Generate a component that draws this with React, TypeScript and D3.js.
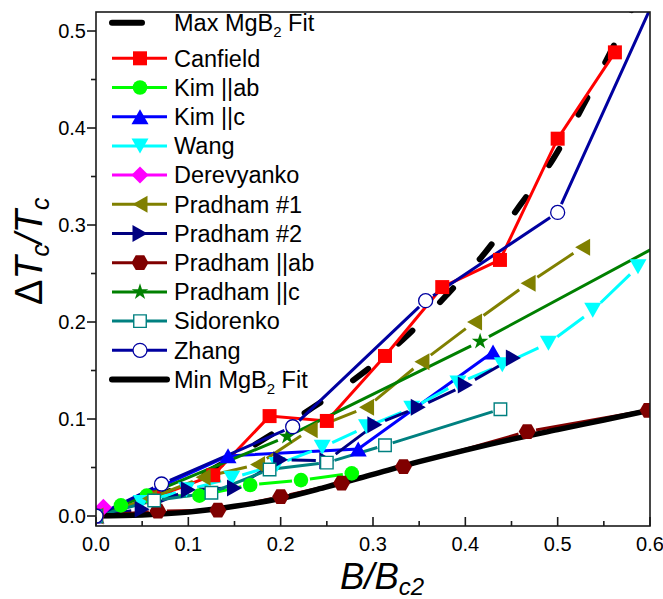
import React from 'react';
import * as d3 from 'd3';

const W = 663;
const H = 599;

// ---- axis ticks ----
const xTickValues = [0, 0.1, 0.2, 0.3, 0.4, 0.5, 0.6];
const xTickLabels = ['0.0', '0.1', '0.2', '0.3', '0.4', '0.5', '0.6'];
const xMinorValues = [0.05, 0.15, 0.25, 0.35, 0.45, 0.55];
const yTickValues = [0, 0.1, 0.2, 0.3, 0.4, 0.5];
const yTickLabels = ['0.0', '0.1', '0.2', '0.3', '0.4', '0.5'];
const yMinorValues = [0.05, 0.15, 0.25, 0.35, 0.45];

// ---- data ----
const maxFitX = [0, 0.05, 0.1, 0.15, 0.19, 0.235, 0.287, 0.337, 0.381, 0.421, 0.459, 0.495, 0.527, 0.556, 0.578, 0.6];
const maxFitY = [0, 0.014, 0.035, 0.061, 0.084, 0.112, 0.146, 0.186, 0.229, 0.271, 0.32, 0.368, 0.422, 0.476, 0.518, 0.56];

const minFitX = [0, 0.05, 0.1, 0.15, 0.2, 0.25, 0.3, 0.35, 0.4, 0.45, 0.5, 0.55, 0.6];
const minFitY = [0, 0.001, 0.004, 0.01, 0.018, 0.03, 0.043, 0.056, 0.068, 0.079, 0.089, 0.099, 0.109];

const canfieldX = [0, 0.0625, 0.127, 0.188, 0.25, 0.313, 0.375, 0.4375, 0.5, 0.562];
const canfieldY = [0, 0.019, 0.042, 0.103, 0.098, 0.165, 0.236, 0.264, 0.389, 0.478];

const kimAbX = [0, 0.027, 0.055, 0.112, 0.167, 0.222, 0.277];
const kimAbY = [0, 0.011, 0.021, 0.021, 0.032, 0.037, 0.044];

const kimCX = [0, 0.143, 0.284, 0.43];
const kimCY = [0, 0.062, 0.069, 0.169];

const wangX = [0, 0.049, 0.098, 0.147, 0.196, 0.245, 0.293, 0.342, 0.392, 0.44, 0.49, 0.538, 0.587];
const wangY = [0, 0.014, 0.027, 0.039, 0.053, 0.071, 0.092, 0.111, 0.137, 0.156, 0.178, 0.212, 0.257];

const derevyankoX = [0, 0.008];
const derevyankoY = [0, 0.009];

const pradham1X = [0, 0.058, 0.116, 0.175, 0.232, 0.293, 0.353, 0.41, 0.468, 0.527];
const pradham1Y = [0, 0.018, 0.04, 0.053, 0.089, 0.112, 0.159, 0.2, 0.24, 0.277];

const pradham2X = [0, 0.05, 0.1, 0.15, 0.2, 0.25, 0.302, 0.349, 0.4, 0.452];
const pradham2Y = [0, 0.007, 0.027, 0.029, 0.058, 0.057, 0.094, 0.112, 0.135, 0.163];

const pradhamAbX = [0, 0.067, 0.132, 0.2, 0.266, 0.333, 0.467, 0.598];
const pradhamAbY = [0, 0.005, 0.006, 0.02, 0.034, 0.051, 0.087, 0.109];

const pradhamCX = [0, 0.207, 0.416, 0.625];
const pradhamCY = [0, 0.082, 0.18, 0.287];

const sidorenkoX = [0, 0.063, 0.125, 0.188, 0.25, 0.313, 0.438];
const sidorenkoY = [0, 0.016, 0.024, 0.048, 0.055, 0.073, 0.11];

const zhangX = [0, 0.071, 0.213, 0.357, 0.5, 0.625];
const zhangY = [0, 0.033, 0.092, 0.222, 0.313, 0.575];

type Shape = 'square' | 'circle' | 'triUp' | 'triDown' | 'triLeft' | 'triRight' | 'diamond' | 'hexagon' | 'star' | 'openSquare' | 'openCircle';

interface Series {
  name: string;
  xs: number[];
  ys: number[];
  color: string;
  shape: Shape;
  gap: number;
}

const seriesList: Series[] = [
  { name: 'Canfield', xs: canfieldX, ys: canfieldY, color: '#FF0000', shape: 'square', gap: 0 },
  { name: 'Kim ||ab', xs: kimAbX, ys: kimAbY, color: '#00FF00', shape: 'circle', gap: 9 },
  { name: 'Kim ||c', xs: kimCX, ys: kimCY, color: '#0000FF', shape: 'triUp', gap: 0 },
  { name: 'Wang', xs: wangX, ys: wangY, color: '#00FFFF', shape: 'triDown', gap: 11 },
  { name: 'Derevyanko', xs: derevyankoX, ys: derevyankoY, color: '#FF00FF', shape: 'diamond', gap: 0 },
  { name: 'Pradham #1', xs: pradham1X, ys: pradham1Y, color: '#808000', shape: 'triLeft', gap: 11 },
  { name: 'Pradham #2', xs: pradham2X, ys: pradham2Y, color: '#000080', shape: 'triRight', gap: 11 },
  { name: 'Pradham ||ab', xs: pradhamAbX, ys: pradhamAbY, color: '#800000', shape: 'hexagon', gap: 9 },
  { name: 'Pradham ||c', xs: pradhamCX, ys: pradhamCY, color: '#008000', shape: 'star', gap: 10 },
  { name: 'Sidorenko', xs: sidorenkoX, ys: sidorenkoY, color: '#008080', shape: 'openSquare', gap: 8 },
  { name: 'Zhang', xs: zhangX, ys: zhangY, color: '#0000A0', shape: 'openCircle', gap: 9 },
];

// ---- layout ----
const PL = 96, PR = 650, PT = 12, PB = 526;
const x = d3.scaleLinear().domain([0, 0.6]).range([PL, PR]);
const y = d3.scaleLinear().domain([-0.0103, 0.5196]).range([PB, PT]);

const FONT = '"Liberation Sans", Arial, Helvetica, sans-serif';

function markerPath(shape: Shape): string {
  switch (shape) {
    case 'square': { const s = 14; return `M${-s / 2},${-s / 2}h${s}v${s}h${-s}Z`; }
    case 'openSquare': { const s = 12.5; return `M${-s / 2},${-s / 2}h${s}v${s}h${-s}Z`; }
    case 'triUp': { const w = 17, h = 15; return `M0,${-h / 2}L${w / 2},${h / 2}L${-w / 2},${h / 2}Z`; }
    case 'triDown': { const w = 17, h = 15; return `M0,${h / 2}L${w / 2},${-h / 2}L${-w / 2},${-h / 2}Z`; }
    case 'triLeft': { const w = 17, h = 15; return `M${-h / 2},0L${h / 2},${-w / 2}L${h / 2},${w / 2}Z`; }
    case 'triRight': { const w = 17, h = 15; return `M${h / 2},0L${-h / 2},${-w / 2}L${-h / 2},${w / 2}Z`; }
    case 'diamond': { const d = 17; return `M0,${-d / 2}L${d / 2},0L0,${d / 2}L${-d / 2},0Z`; }
    case 'hexagon': {
      const r = 8.5;
      const pts = d3.range(6).map((i) => {
        const a = (Math.PI / 3) * i;
        return [r * Math.cos(a), r * Math.sin(a)];
      });
      return 'M' + pts.map((p) => p.join(',')).join('L') + 'Z';
    }
    case 'star': return d3.symbol(d3.symbolStar, 85)() || '';
    default: return '';
  }
}

function Marker({ shape, color, cx, cy }: { shape: Shape; color: string; cx: number; cy: number }) {
  if (shape === 'circle') return <circle cx={cx} cy={cy} r={7.3} fill={color} />;
  if (shape === 'openCircle') return <circle cx={cx} cy={cy} r={7} fill="#fff" stroke={color} strokeWidth={1.3} />;
  if (shape === 'openSquare') return <path d={markerPath(shape)} transform={`translate(${cx},${cy})`} fill="#fff" stroke={color} strokeWidth={1.4} />;
  return <path d={markerPath(shape)} transform={`translate(${cx},${cy})`} fill={color} />;
}

function gappedSegments(pts: [number, number][], gap: number): string {
  if (gap <= 0) return d3.line()(pts) || '';
  let d = '';
  for (let i = 0; i < pts.length - 1; i++) {
    const [x1, y1] = pts[i];
    const [x2, y2] = pts[i + 1];
    const dx = x2 - x1, dy = y2 - y1;
    const len = Math.hypot(dx, dy);
    if (len <= 2 * gap + 1) continue;
    const ux = dx / len, uy = dy / len;
    d += `M${x1 + ux * gap},${y1 + uy * gap}L${x2 - ux * gap},${y2 - uy * gap}`;
  }
  return d;
}

const fitLine = d3.line<[number, number]>().curve(d3.curveMonotoneX);

export default function App() {
  const maxPts: [number, number][] = maxFitX.map((v, i) => [x(v), y(maxFitY[i])]);
  const minPts: [number, number][] = minFitX.map((v, i) => [x(v), y(minFitY[i])]);

  const legendX1 = 112, legendX2 = 167, legendMX = 140, legendTX = 174;
  const legendRowY = (i: number) => 58.3 + i * 29.2;
  const maxRowY = 22.7;
  const minRowY = legendRowY(seriesList.length);

  return (
    <svg width={W} height={H} style={{ position: 'absolute', left: 0, top: 0, background: '#fff' }} fontFamily={FONT}>
      <defs>
        <clipPath id="plotClip">
          <rect x={PL} y={PT} width={PR - PL} height={PB - PT} />
        </clipPath>
      </defs>
      <rect x={0} y={0} width={W} height={H} fill="#fff" />

      <g clipPath="url(#plotClip)">
        {/* max fit (bottom) */}
        <path d={fitLine(maxPts) || ''} fill="none" stroke="#000" strokeWidth={6} strokeLinecap="round" strokeDasharray="19 39.5" />
        {/* data lines */}
        {seriesList.map((s) => {
          const pts: [number, number][] = s.xs.map((v, i) => [x(v), y(s.ys[i])]);
          return <path key={s.name} d={gappedSegments(pts, s.gap)} fill="none" stroke={s.color} strokeWidth={3} />;
        })}
        {/* min fit */}
        <path d={fitLine(minPts) || ''} fill="none" stroke="#000" strokeWidth={5.5} strokeLinecap="round" />
        {/* markers */}
        {seriesList.map((s) => (
          <g key={s.name + '-m'}>
            {s.xs.map((v, i) => (
              <Marker key={i} shape={s.shape} color={s.color} cx={x(v)} cy={y(s.ys[i])} />
            ))}
          </g>
        ))}
      </g>

      {/* frame */}
      <rect x={PL} y={PT} width={PR - PL} height={PB - PT} fill="none" stroke="#1a1a1a" strokeWidth={1.6} />

      {/* x ticks (inward) */}
      {xTickValues.map((v, i) => (
        <g key={'xt' + i}>
          <line x1={x(v)} x2={x(v)} y1={PB} y2={PB - 9} stroke="#1a1a1a" strokeWidth={1.6} />
          <text x={x(v)} y={551} textAnchor="middle" fontSize={20} fill="#000">{xTickLabels[i]}</text>
        </g>
      ))}
      {xMinorValues.map((v, i) => (
        <line key={'xm' + i} x1={x(v)} x2={x(v)} y1={PB} y2={PB - 5} stroke="#1a1a1a" strokeWidth={1.6} />
      ))}

      {/* y ticks (outward) */}
      {yTickValues.map((v, i) => (
        <g key={'yt' + i}>
          <line x1={PL - 9} x2={PL} y1={y(v)} y2={y(v)} stroke="#1a1a1a" strokeWidth={1.6} />
          <text x={86} y={y(v) + 7.2} textAnchor="end" fontSize={20} fill="#000">{yTickLabels[i]}</text>
        </g>
      ))}
      {yMinorValues.map((v, i) => (
        <line key={'ym' + i} x1={PL - 5} x2={PL} y1={y(v)} y2={y(v)} stroke="#1a1a1a" strokeWidth={1.6} />
      ))}

      {/* axis titles */}
      <text x={340} y={589} fontSize={36.5} fontStyle="italic" fill="#000">
        B/B<tspan fontSize={24} dy={6}>c2</tspan>
      </text>
      <text transform="translate(42,305) rotate(-90)" fontSize={38} fill="#000">
        <tspan>Δ</tspan>
        <tspan fontStyle="italic">T</tspan>
        <tspan fontStyle="italic" fontSize={25} dy={7}>c</tspan>
        <tspan fontStyle="italic" dy={-7}>/T</tspan>
        <tspan fontStyle="italic" fontSize={25} dy={7}>c</tspan>
      </text>

      {/* legend */}
      <g>
        <line x1={legendX1} x2={142} y1={maxRowY} y2={maxRowY} stroke="#000" strokeWidth={6} strokeLinecap="round" />
        <text x={legendTX} y={maxRowY + 8.5} fontSize={23.5} fill="#000">
          Max MgB<tspan fontSize={15} dy={6}>2</tspan><tspan dy={-6}> Fit</tspan>
        </text>
        {seriesList.map((s, i) => {
          const ry = legendRowY(i);
          return (
            <g key={'lg' + s.name}>
              <line x1={legendX1} x2={legendX2} y1={ry} y2={ry} stroke={s.color} strokeWidth={3} />
              <Marker shape={s.shape} color={s.color} cx={legendMX} cy={ry} />
              <text x={legendTX} y={ry + 8.3} fontSize={23.5} fill="#000">{s.name}</text>
            </g>
          );
        })}
        <line x1={legendX1} x2={legendX2} y1={minRowY} y2={minRowY} stroke="#000" strokeWidth={6} strokeLinecap="round" />
        <text x={legendTX} y={minRowY + 8.5} fontSize={23.5} fill="#000">
          Min MgB<tspan fontSize={15} dy={6}>2</tspan><tspan dy={-6}> Fit</tspan>
        </text>
      </g>
    </svg>
  );
}
